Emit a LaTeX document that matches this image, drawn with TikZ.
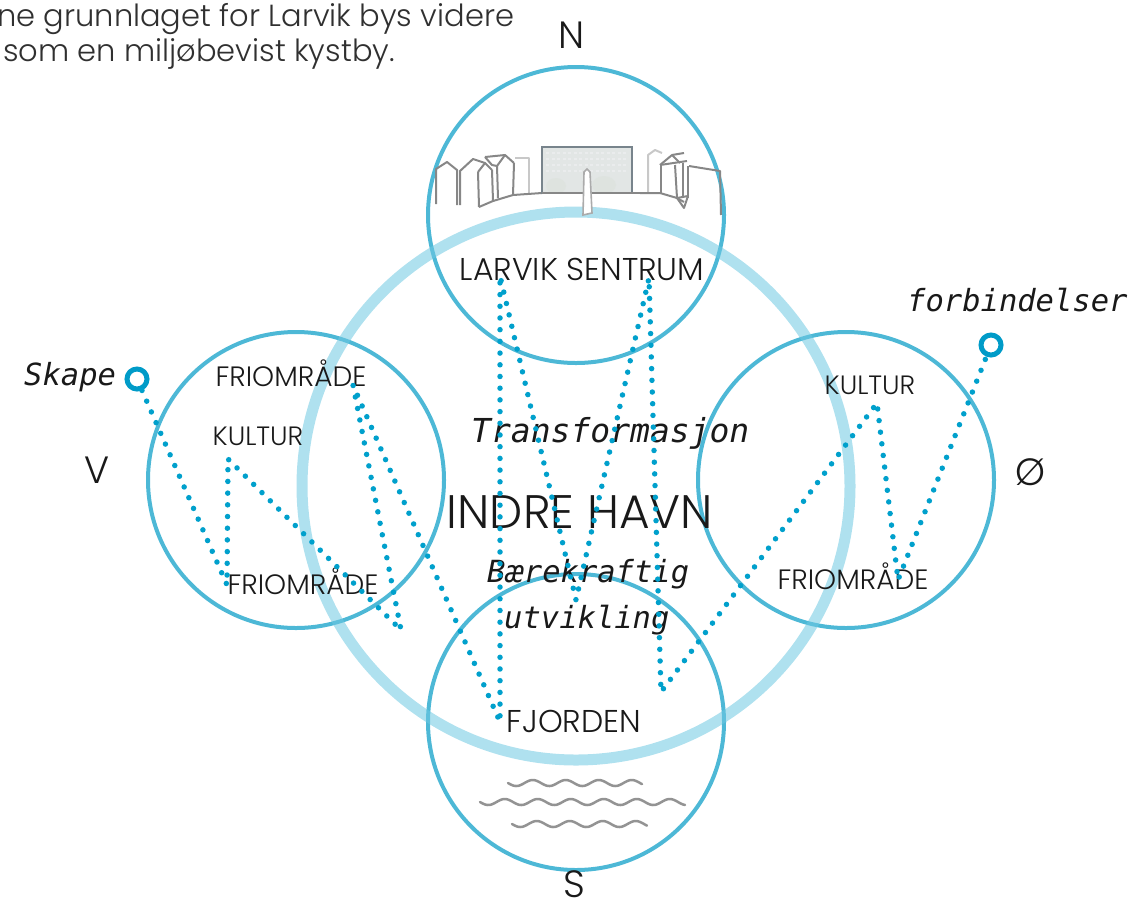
\documentclass[tikz,border=0pt]{standalone}
\usepackage{fontspec}
\newfontfamily\gothic{Poppins}[UprightFont=* Light]
\newfontfamily\mono{DejaVu Sans Mono}
\definecolor{circblue}{RGB}{77,184,214}
\definecolor{ringblue}{RGB}{110,200,225}
\definecolor{dotblue}{RGB}{0,160,204}
\definecolor{endblue}{RGB}{0,155,200}
\definecolor{sketch}{RGB}{135,135,135}
\definecolor{sketchlight}{RGB}{200,200,200}
\definecolor{facade}{RGB}{226,230,229}
\definecolor{facadeedge}{RGB}{120,132,140}
\definecolor{ink}{RGB}{25,25,25}
\begin{document}
\begin{tikzpicture}[x=1pt,y=-1pt,
  zone/.style={circle,draw=circblue,line width=4pt,minimum size=296pt,inner sep=0pt},
  harbour/.style={circle,draw=ringblue,draw opacity=0.55,line width=11pt,minimum size=548pt,inner sep=0pt},
  endring/.style={circle,draw=endblue,line width=5pt,minimum size=20pt,inner sep=0pt},
  trail/.style={dotblue,line width=5.5pt,line cap=round,dash pattern=on 0pt off 11.7pt},
  place/.style={text=ink,font=\gothic\fontsize{28}{32}\selectfont,anchor=base,inner sep=0pt},
  bigplace/.style={place,font=\gothic\fontsize{31.5}{35}\selectfont},
  compass/.style={text=ink,font=\gothic\fontsize{38}{42}\selectfont,anchor=base,inner sep=0pt},
  theme/.style={text=ink,font=\mono\itshape\fontsize{30.5}{34}\selectfont,anchor=base west,inner sep=0pt},
  intro/.style={text=ink!90,font=\gothic\fontsize{30.5}{34}\selectfont,anchor=base west,inner sep=0pt},
  line/.style={draw=sketch,line width=2pt,line join=round},
  faint/.style={draw=sketchlight,line width=2pt,line join=round},
  wave/.style={draw=sketch!90,line width=2.5pt,line cap=round}]
\useasboundingbox (0,0) rectangle (1129,906);

% intro text
\node[intro] (intro1) at (-3,26) {ne grunnlaget for Larvik bys videre};
\node[intro] (intro2) at (3,61) {som en miljøbevist kystby.};

% district circles
\node[zone] (nord) at (576,215) {};
\node[zone] (sor) at (576,722) {};
\node[zone] (vest) at (296,480) {};
\node[zone] (ost) at (846,480) {};
% inner harbour ring
\node[harbour] (havn) at (576,486) {};

% town skyline
\draw[line] (436,204) -- (436,169) -- (447,162) -- (457,170) -- (457,205);
\draw[line] (460,205) -- (460,171) -- (473,159) -- (485,163);
\draw[line] (478,172) -- (485,163) -- (492,170);
\draw[line] (478,172) -- (479,207);
\draw[line] (492,170) -- (493,201);
\draw[line] (485,157) -- (505,155) -- (514,163);
\draw[line] (485,157) -- (492,165) -- (497,166) -- (505,155);
\draw[line] (497,166) -- (498,198);
\draw[line] (514,163) -- (513,195);
\draw[faint] (515,158) -- (529,158) -- (529,193);
\draw[line] (479,207) -- (493,201) -- (513,195) -- (542,193);
% town hall facade
\fill[facade] (542,147) rectangle (632,193);
\foreach \yy in {153,159,165,171}
  \draw[white!55!facadeedge!35,line width=1.6pt,dash pattern=on 3pt off 2.5pt] (546,\yy) -- (628,\yy);
\fill[green!10!gray!25,opacity=0.6] (556,186) ellipse (10pt and 8pt) (604,185) ellipse (12pt and 9pt);
\draw[facadeedge,line width=2pt] (542,147) rectangle (632,193);
\draw[line] (542,193) -- (645,193);
% obelisk
\draw[draw=sketch!70,line width=1.6pt,fill=white] (583,215) -- (584,172) -- (587,169) -- (590,172) -- (592,213) -- cycle;
% houses on the east side
\draw[faint] (648,193) -- (648,155) -- (655,150) -- (662,153);
\draw[line] (660,165) -- (672,155) -- (680,163);
\draw[line] (672,155) -- (684,153);
\draw[line] (660,165) -- (687,161);
\draw[line] (661,165) -- (661,193);
\draw[line] (675,165) -- (677,198);
\draw[line] (683,163) -- (683,196);
\draw[line] (689,166) -- (720,171) -- (721,215);
\draw[line] (688,166) -- (688,198);
\draw[line] (640,193) -- (660,193) -- (677,198) -- (684,202);
\draw[line] (677,198) -- (688,196) -- (684,208) -- cycle;

% fjord waves
\draw[wave] plot[domain=508:642,samples=120] (\x,{783+3*sin((\x-508)/33*360)});
\draw[wave] plot[domain=480:685,samples=160] (\x,{802+3*sin((\x-480)/33*360)});
\draw[wave] plot[domain=512:647,samples=120] (\x,{824+3*sin((\x-512)/33*360)});

% labels
\node[compass] (lblN) at (572,48) {N};
\node[compass] (lblS) at (574,897) {S};
\node[compass] (lblV) at (97,483) {V};
\node[compass] (lblO) at (1030,485) {Ø};

\node[bigplace] (sentrum) at (582,280) {LARVIK SENTRUM};
\node[place,font=\gothic\fontsize{47}{50}\selectfont] (indre) at (580,528) {INDRE HAVN};
\node[place] (friV1) at (291,386) {FRIOMRÅDE};
\node[place,font=\gothic\fontsize{26.5}{30}\selectfont] (kulV) at (258,445) {KULTUR};
\node[place] (friV2) at (303,594) {FRIOMRÅDE};
\node[place,font=\gothic\fontsize{26.5}{30}\selectfont] (kulO) at (870,394) {KULTUR};
\node[place] (friO) at (853,589) {FRIOMRÅDE};
\node[bigplace] (fjord) at (574,732) {FJORDEN};

\node[theme,font=\mono\itshape\fontsize{33}{36}\selectfont] (transf) at (471,442) {Transformasjon};
\node[theme] (baer) at (487,582) {Bærekraftig};
\node[theme] (utv) at (504,628) {utvikling};
\node[theme] (skape) at (24,385) {Skape};
\node[theme] (forb) at (907,311) {forbindelser};

% the connecting trail
\node[endring] (startW) at (137,379) {};
\node[endring] (endO) at (991,345) {};
\coordinate (p1) at (227,585);
\coordinate (p2) at (228,459);
\coordinate (p3) at (401,630);
\coordinate (p4) at (353,385);
\coordinate (p5) at (500,722);
\coordinate (p6) at (500,276);
\coordinate (p7) at (576,600);
\coordinate (p8) at (649,278);
\coordinate (p9) at (661,692);
\coordinate (p10) at (877,403);
\coordinate (p11) at (898,580);
\draw[trail] (startW) -- (p1) -- (p2) -- (p3) -- (p4) -- (p5) -- (p6) -- (p7)
  -- (p8) -- (p9) -- (p10) -- (p11) -- (endO);
\end{tikzpicture}
\end{document}
